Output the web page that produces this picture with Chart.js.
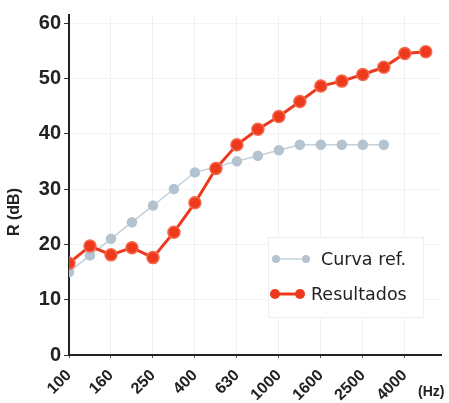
<!DOCTYPE html>
<html>
<head>
<meta charset="utf-8">
<script src="https://cdn.jsdelivr.net/npm/chart.js@4.4.1/dist/chart.umd.min.js"></script>
<style>
  html, body { margin: 0; padding: 0; background: #fff; }
  #wrap { width: 449px; height: 403px; position: relative; }
</style>
</head>
<body>
<div id="wrap"><canvas id="rChart" width="449" height="403"></canvas></div>
<script>
// third-octave bands (Hz)
const freqs = [100, 125, 160, 200, 250, 315, 400, 500, 630, 800, 1000, 1250, 1600, 2000, 2500, 3150, 4000, 5000];
// reference curve (shifted), up to 3150 Hz
const curvaRef = [15, 18, 21, 24, 27, 30, 33, 34, 35, 36, 37, 38, 38, 38, 38, 38];
// measured results
const resultados = [16.6, 19.7, 18.1, 19.4, 17.6, 22.2, 27.5, 33.7, 38.0, 40.8, 43.1, 45.8, 48.6, 49.5, 50.7, 52.0, 54.5, 54.8];
const yTicks = [0, 10, 20, 30, 40, 50, 60];
const xTickIdx = [0, 2, 4, 6, 8, 10, 12, 14, 16];

const grayLine = '#c3d1da';
const grayPoint = '#b3c3cf';
const red = '#ee3a1c';

const toPts = arr => arr.map((v, i) => ({ x: i, y: v }));

// legend box, axis title and unit label drawn on the canvas
const extras = {
  id: 'extras',
  afterDraw(chart) {
    const ctx = chart.ctx;
    ctx.save();
    // y title
    ctx.fillStyle = '#222';
    ctx.font = 'bold 16px "Liberation Sans", Arial, sans-serif';
    ctx.translate(15, 212);
    ctx.rotate(-Math.PI / 2);
    ctx.textAlign = 'center';
    ctx.textBaseline = 'middle';
    ctx.fillText('R (dB)', 0, 0);
    ctx.restore();

    ctx.save();
    ctx.fillStyle = '#222';
    ctx.font = 'bold 14px "Liberation Sans", Arial, sans-serif';
    ctx.textAlign = 'left';
    ctx.textBaseline = 'middle';
    ctx.fillText('(Hz)', 418, 392);

    // legend
    ctx.fillStyle = 'rgba(255,255,255,0.95)';
    ctx.fillRect(268, 237, 155, 80);
    ctx.strokeStyle = '#eceff2';
    ctx.lineWidth = 1;
    ctx.strokeRect(268.5, 237.5, 155, 80);

    const items = [
      { ds: chart.data.datasets[0], x0: 276, x1: 306, y: 259, tx: 321, r: 4 },
      { ds: chart.data.datasets[1], x0: 275, x1: 300, y: 294, tx: 311, r: 5 }
    ];
    items.forEach(it => {
      ctx.strokeStyle = it.ds.borderColor;
      ctx.lineWidth = it.ds.borderWidth;
      ctx.beginPath();
      ctx.moveTo(it.x0, it.y);
      ctx.lineTo(it.x1, it.y);
      ctx.stroke();
      ctx.fillStyle = it.ds.pointBackgroundColor;
      [it.x0, it.x1].forEach(px => {
        ctx.beginPath();
        ctx.arc(px, it.y, it.r, 0, Math.PI * 2);
        ctx.fill();
      });
      ctx.fillStyle = '#222';
      ctx.font = '17.5px "DejaVu Sans", sans-serif';
      ctx.fillText(it.ds.label, it.tx, it.y + 1);
    });
    ctx.restore();
  }
};

new Chart(document.getElementById('rChart'), {
  type: 'line',
  data: {
    datasets: [
      {
        label: 'Curva ref.',
        data: toPts(curvaRef),
        borderColor: grayLine,
        backgroundColor: grayPoint,
        pointBackgroundColor: grayPoint,
        pointBorderColor: grayPoint,
        borderWidth: 1.5,
        pointRadius: 4.5,
        order: 2
      },
      {
        label: 'Resultados',
        data: toPts(resultados),
        borderColor: red,
        backgroundColor: red,
        pointBackgroundColor: red,
        pointBorderColor: '#f46a4e',
        pointBorderWidth: 1.5,
        borderWidth: 3,
        pointRadius: 6,
        order: 1
      }
    ]
  },
  options: {
    responsive: false,
    animation: false,
    layout: { padding: { top: 8, right: 6, left: 0, bottom: 0 } },
    plugins: { legend: { display: false }, tooltip: { enabled: false } },
    scales: {
      x: {
        type: 'linear',
        min: 0,
        max: 17.75,
        afterBuildTicks: axis => { axis.ticks = xTickIdx.map(v => ({ value: v })); },
        afterFit: axis => { axis.height = 48; },
        ticks: {
          autoSkip: false,
          minRotation: 45,
          maxRotation: 45,
          color: '#222',
          padding: 8,
          font: { family: '"Liberation Sans", Arial, sans-serif', size: 16, weight: 'bold' },
          callback: v => freqs[v]
        },
        grid: { color: '#eef2f5', tickColor: '#555', tickLength: 3, lineWidth: 1 },
        border: { color: '#222', width: 2 }
      },
      y: {
        min: 0,
        max: 61.45,
        afterBuildTicks: axis => { axis.ticks = yTicks.map(v => ({ value: v })); },
        afterFit: axis => { axis.width = 69; },
        ticks: {
          color: '#222',
          padding: 3,
          font: { family: '"Liberation Sans", Arial, sans-serif', size: 20, weight: 'bold' }
        },
        grid: { color: '#f1f4f6', tickColor: '#333', tickLength: 5, lineWidth: 1 },
        border: { color: '#222', width: 2 }
      }
    }
  },
  plugins: [extras]
});
</script>
</body>
</html>
